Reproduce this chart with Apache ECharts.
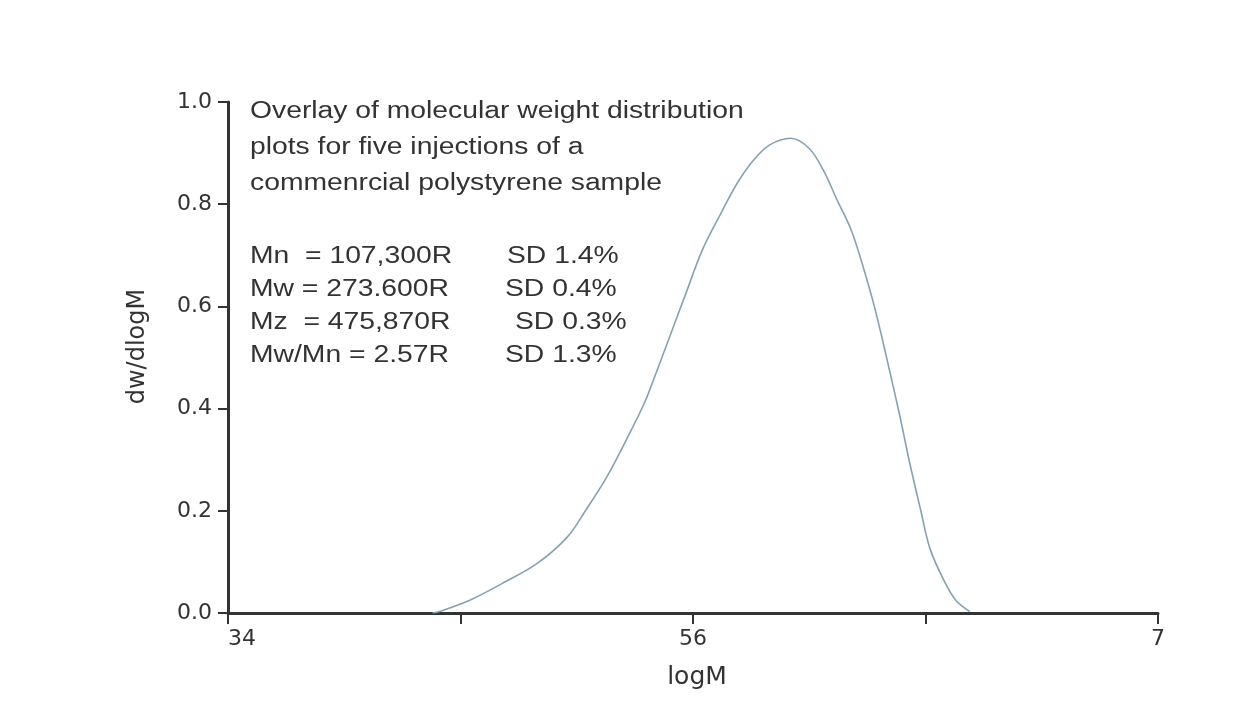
<!DOCTYPE html>
<html>
<head>
<meta charset="utf-8">
<script src="https://cdn.jsdelivr.net/npm/echarts@6/dist/echarts.min.js"></script>
<style>
html,body{margin:0;padding:0;background:#ffffff;}
#chart{width:1256px;height:725px;}
</style>
</head>
<body>
<div id="chart"></div>
<script>
// logM positions of the traced curve
const logM = [3.88, 3.91, 4.04, 4.18, 4.33, 4.46, 4.54, 4.63, 4.72, 4.79, 4.83, 4.90, 4.97, 5.04, 5.12, 5.19, 5.26, 5.33, 5.42, 5.50, 5.56, 5.62, 5.68, 5.73, 5.78, 5.83, 5.89, 5.93, 5.98, 6.02, 6.08, 6.13, 6.19];
// dw/dlogM values
const dwdlogM = [0.000, 0.003, 0.025, 0.058, 0.097, 0.149, 0.202, 0.267, 0.345, 0.410, 0.456, 0.541, 0.626, 0.710, 0.782, 0.841, 0.886, 0.916, 0.929, 0.909, 0.867, 0.808, 0.750, 0.680, 0.600, 0.505, 0.385, 0.298, 0.200, 0.125, 0.063, 0.025, 0.003];
// x tick labels as printed (at logM 3,4,5,6,7)
const xTickValues = [3, 4, 5, 6, 7];
const xTickLabels = ['34', '', '56', '', '7'];
// annotation text
const titleLines = ['Overlay of molecular weight distribution', 'plots for five injections of a', 'commenrcial polystyrene sample'];
const statNames = ['Mn  = 107,300R', 'Mw = 273.600R', 'Mz  = 475,870R', 'Mw/Mn = 2.57R'];
const statSD = ['SD 1.4%', 'SD 0.4%', 'SD 0.3%', 'SD 1.3%'];

const FONT = '"Liberation Sans", Arial, sans-serif';
const TICKFONT = '"DejaVu Sans", "Liberation Sans", sans-serif';
const TXT = '#333333';
const chart = echarts.init(document.getElementById('chart'), null, {renderer: 'canvas'});

const graphics = [];
titleLines.forEach((t, i) => {
  graphics.push({type: 'text', left: 250, top: 100 + i * 36, scaleX: 1.23,
    style: {text: t, font: '23px ' + FONT, fill: TXT}});
});
const sdX = [507, 505, 515, 505];
statNames.forEach((t, i) => {
  graphics.push({type: 'text', left: 250, top: 245 + i * 33, scaleX: 1.23,
    style: {text: t, font: '23px ' + FONT, fill: TXT}});
  graphics.push({type: 'text', left: sdX[i], top: 245 + i * 33, scaleX: 1.23,
    style: {text: statSD[i], font: '23px ' + FONT, fill: TXT}});
});

chart.setOption({
  backgroundColor: '#ffffff',
  animation: false,
  grid: {left: 228, right: 98, top: 102, bottom: 112, outerBoundsMode: 'none'},
  xAxis: {
    type: 'value', min: 3, max: 7, interval: 1,
    name: 'logM', nameLocation: 'middle', nameGap: 52,
    nameTextStyle: {fontFamily: TICKFONT, fontSize: 25, color: TXT, padding: [0, 0, 0, 8]},
    axisLine: {show: true, lineStyle: {color: '#333333', width: 3}},
    axisTick: {show: true, inside: false, length: 11, lineStyle: {color: '#333333', width: 2}},
    axisLabel: {
      margin: 15, fontFamily: TICKFONT, fontSize: 22, color: TXT,
      alignMinLabel: 'left',
      formatter: v => { const k = xTickValues.indexOf(v); return k >= 0 ? xTickLabels[k] : ''; }
    },
    splitLine: {show: false}
  },
  yAxis: {
    type: 'value', min: 0, max: 1, interval: 0.2,
    name: 'dw/dlogM', nameLocation: 'middle', nameGap: 78, nameRotate: 90,
    nameTextStyle: {fontFamily: TICKFONT, fontSize: 24, color: TXT, padding: [0, 0, 0, 22]},
    axisLine: {show: true, lineStyle: {color: '#333333', width: 3}},
    axisTick: {show: true, inside: false, length: 10, lineStyle: {color: '#333333', width: 2}},
    axisLabel: {margin: 16, fontFamily: TICKFONT, fontSize: 22, color: TXT,
      formatter: v => v.toFixed(1)},
    splitLine: {show: false}
  },
  series: [{
    type: 'line',
    data: logM.map((x, i) => [x, dwdlogM[i]]),
    smooth: 0.35,
    showSymbol: false,
    lineStyle: {color: '#86a2b0', width: 1.6},
    z: 3
  }],
  graphic: graphics
});
</script>
</body>
</html>
